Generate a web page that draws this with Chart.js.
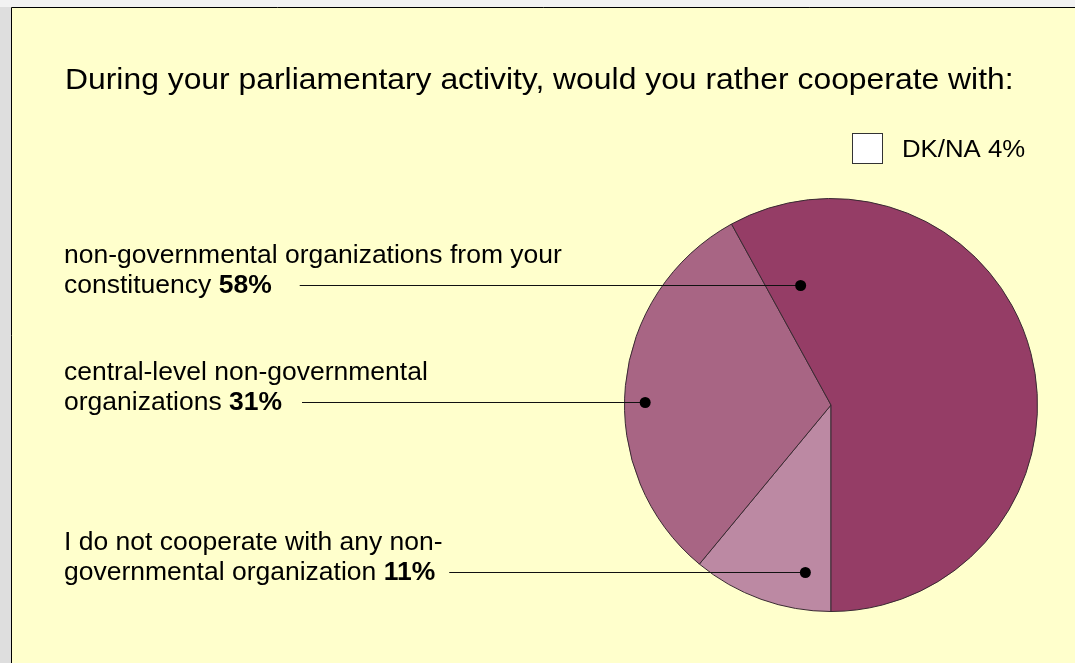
<!DOCTYPE html>
<html>
<head>
<meta charset="utf-8">
<script src="https://cdn.jsdelivr.net/npm/chart.js@4/dist/chart.umd.min.js"></script>
<style>
  html, body { margin: 0; padding: 0; background: #e0e0e0; }
  canvas { display: block; }
</style>
</head>
<body>
<canvas id="chart" width="1075" height="663"></canvas>
<script>
// data (pie drawn clockwise starting at the bottom)
const titleText = 'During your parliamentary activity, would you rather cooperate with:';
const categories = [
  ['I do not cooperate with any non-', 'governmental organization'],
  ['central-level non-governmental', 'organizations'],
  ['non-governmental organizations from your', 'constituency'],
];
const values = [11, 31, 58];
const sliceColors = ['#bc89a3', '#a86584', '#953d66'];
const otherLabel = 'DK/NA';
const otherValue = 4;

// where each callout dot sits inside its slice (fraction of angle, fraction of radius)
const dotAnchors = [
  { f: 0.22, r: 0.82, gap: 14 },
  { f: 0.46, r: 0.90, gap: 20 },
  { f: 0.07, r: 0.60, gap: 28 },
];

const FONT = '"Liberation Sans", Arial, sans-serif';

function scaledText(ctx, str, x, y, font, sx) {
  ctx.save();
  ctx.font = font;
  const w = ctx.measureText(str).width * sx;
  ctx.translate(x, y);
  ctx.scale(sx, 1);
  ctx.fillText(str, 0, 0);
  ctx.restore();
  return w;
}

const decorPlugin = {
  id: 'decor',
  beforeDraw(chart) {
    const ctx = chart.ctx;
    ctx.save();
    // outer grey frame
    ctx.fillStyle = '#dedede';
    ctx.fillRect(0, 0, chart.width, chart.height);
    ctx.fillStyle = '#f2f2f2';
    ctx.fillRect(0, 0, chart.width, 7);
    // panel
    ctx.fillStyle = '#ffffcc';
    ctx.fillRect(11, 7, chart.width - 11, chart.height - 7);
    ctx.strokeStyle = '#000';
    ctx.lineWidth = 1;
    ctx.beginPath();
    ctx.moveTo(11.5, chart.height);
    ctx.lineTo(11.5, 7.5);
    ctx.lineTo(chart.width, 7.5);
    ctx.stroke();
    ctx.restore();
  },
  afterDatasetsDraw(chart) {
    const ctx = chart.ctx;
    const meta = chart.getDatasetMeta(0);
    ctx.save();
    ctx.fillStyle = '#000';
    ctx.textBaseline = 'alphabetic';

    // title
    scaledText(ctx, titleText, 65, 89, '29.5px ' + FONT, 1.08);

    // legend entry for the answer that is not in the pie
    ctx.fillStyle = '#fff';
    ctx.fillRect(852, 133, 30, 30);
    ctx.strokeStyle = '#333';
    ctx.lineWidth = 1;
    ctx.strokeRect(852.5, 133.5, 30, 30);
    ctx.fillStyle = '#000';
    scaledText(ctx, otherLabel + ' ' + otherValue + '%', 902, 157, '23px ' + FONT, 1.12);

    // callouts
    meta.data.forEach((arc, i) => {
      const p = arc.getProps(['x', 'y', 'startAngle', 'endAngle', 'outerRadius'], true);
      const a = dotAnchors[i];
      const ang = p.startAngle + a.f * (p.endAngle - p.startAngle);
      const dx = p.x + Math.cos(ang) * p.outerRadius * a.r;
      const dy = p.y + Math.sin(ang) * p.outerRadius * a.r;

      const lines = categories[i];
      const base2 = Math.round(dy) + 8;
      const base1 = base2 - 30;
      const sx = 1.06;
      const f = '25px ' + FONT;
      scaledText(ctx, lines[0], 64, base1, f, sx);
      let w = scaledText(ctx, lines[1] + ' ', 64, base2, f, sx);
      w += scaledText(ctx, values[i] + '%', 64 + w, base2, 'bold ' + f, sx);

      ctx.strokeStyle = '#111';
      ctx.lineWidth = 1;
      ctx.beginPath();
      ctx.moveTo(64 + w + a.gap, Math.round(dy) + 0.5);
      ctx.lineTo(dx, Math.round(dy) + 0.5);
      ctx.stroke();

      ctx.beginPath();
      ctx.arc(dx, Math.round(dy) + 0.5, 5.5, 0, Math.PI * 2);
      ctx.fill();
    });
    ctx.restore();
  },
};

const chart = new Chart(document.getElementById('chart'), {
  type: 'pie',
  data: {
    labels: categories.map((l) => l.join(' ')),
    datasets: [
      {
        data: values,
        backgroundColor: sliceColors,
        borderColor: '#3a2a32',
        borderWidth: 1,
      },
    ],
  },
  options: {
    responsive: false,
    animation: false,
    rotation: 180,
    layout: { padding: { left: 624, right: 37, top: 198, bottom: 51 } },
    plugins: {
      legend: { display: false },
      tooltip: { enabled: false },
      title: { display: false },
    },
  },
  plugins: [decorPlugin],
});
</script>
</body>
</html>
